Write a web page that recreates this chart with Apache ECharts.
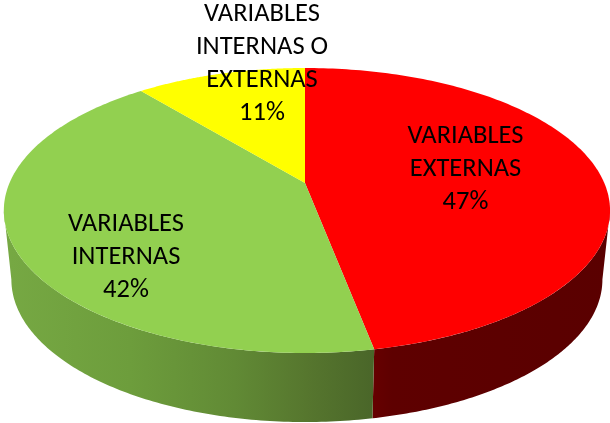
<!DOCTYPE html>
<html>
<head>
<meta charset="utf-8">
<style>html,body{margin:0;padding:0;background:#fff}#c{width:610px;height:423px}</style>
<script src="https://cdn.jsdelivr.net/npm/echarts@6/dist/echarts.min.js"></script>
</head>
<body>
<div id="c"></div>
<script>
const sliceNames = ['VARIABLES\nEXTERNAS', 'VARIABLES\nINTERNAS', 'VARIABLES\nINTERNAS O\nEXTERNAS'];
const sliceValues = [47, 42, 11];

const topColors = ['#ff0000', '#92d050', '#ffff00'];
const labelCentres = [[465.5, 169], [126, 257], [262, 64]];
const view = { cx: 305, cy: 183, aRight: 299.3, aLeft: 295.5, b: 137.2, k: 0.193, depth: 69, wallScale: 0.975 };

const chart = echarts.init(document.getElementById('c'), null, { renderer: 'canvas' });
const total = sliceValues.reduce((a, b) => a + b, 0);

function project(t) {
  const u = Math.sin(t), v = Math.cos(t), w = 1 + view.k * v;
  const a = u >= 0 ? view.aRight : view.aLeft;
  return [view.cx + a * u / w, view.cy - view.b * v / w];
}
function wallFill(i) {
  if (i === 0) {
    return new echarts.graphic.LinearGradient(373, 0, 610, 0, [
      { offset: 0, color: '#660000' }, { offset: 0.08, color: '#5e0000' }, { offset: 1, color: '#5a0000' }
    ], true);
  }
  return new echarts.graphic.LinearGradient(10, 0, 373, 0, [
    { offset: 0, color: '#76a843' }, { offset: 0.33, color: '#6d9d3c' },
    { offset: 0.62, color: '#618a35' }, { offset: 0.82, color: '#56762e' }, { offset: 1, color: '#4a6629' }
  ], true);
}

const frontStart = Math.acos(-view.k);
const frontEnd = 2 * Math.PI - frontStart;

function renderItem(params, api) {
  const i = params.dataIndex;
  let before = 0;
  for (let j = 0; j < i; j++) before += sliceValues[j];
  const t0 = before / total * 2 * Math.PI;
  const t1 = (before + api.value(0)) / total * 2 * Math.PI;
  const children = [];

  const a0 = Math.max(t0, frontStart), a1 = Math.min(t1, frontEnd);
  if (a1 > a0) {
    const upper = [], lower = [];
    for (let n = 0; n <= 120; n++) {
      const p = project(a0 + (a1 - a0) * n / 120);
      upper.push(p);
      lower.unshift([view.cx + (p[0] - view.cx) * view.wallScale, p[1] + view.depth]);
    }
    children.push({ type: 'polygon', z2: 1, shape: { points: upper.concat(lower) }, style: { fill: wallFill(i) } });
  }

  const pts = [[view.cx, view.cy]];
  for (let n = 0; n <= 160; n++) pts.push(project(t0 + (t1 - t0) * n / 160));
  children.push({ type: 'polygon', z2: 2, shape: { points: pts }, style: { fill: topColors[i] } });

  children.push({
    type: 'text', z2: 10,
    x: labelCentres[i][0], y: labelCentres[i][1],
    style: {
      text: sliceNames[i] + '\n' + api.value(0) + '%',
      fill: '#000', font: '26.5px Carlito, Lato, sans-serif',
      align: 'center', verticalAlign: 'middle', lineHeight: 33
    }
  });
  return { type: 'group', children };
}

chart.setOption({
  animation: false,
  backgroundColor: '#fff',
  series: [{
    type: 'custom',
    coordinateSystem: 'none',
    renderItem,
    data: sliceValues.map((v, i) => ({ name: sliceNames[i], value: [v] }))
  }]
});
</script>
</body>
</html>
